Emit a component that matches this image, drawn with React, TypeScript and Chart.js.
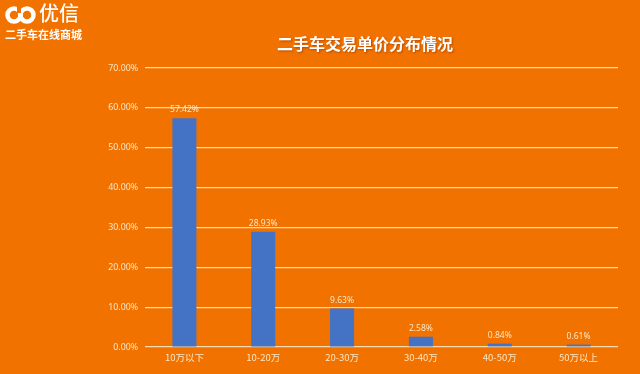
import React, { useEffect, useRef } from "react";
import { Chart, registerables } from "chart.js";

Chart.register(...registerables);

const categories = ["10万以下", "10-20万", "20-30万", "30-40万", "40-50万", "50万以上"];
const shares = [57.42, 28.93, 9.63, 2.58, 0.84, 0.61];
const titleText = "二手车交易单价分布情况";
const brandName = "优信";
const brandSlogan = "二手车在线商城";

const BG = "#f27200";
const CREAM = "#fbe6c4";

const overlayPlugin = {
  id: "overlay",
  afterDatasetsDraw(chart: any) {
    const ctx = chart.ctx;
    const meta = chart.getDatasetMeta(0);
    ctx.save();
    ctx.fillStyle = CREAM;
    ctx.font = "8.5px 'Noto Sans', sans-serif";
    ctx.textAlign = "center";
    ctx.textBaseline = "bottom";
    meta.data.forEach((bar: any, i: number) => {
      ctx.fillText(shares[i].toFixed(2) + "%", bar.x, bar.y - 4);
    });
    // title
    ctx.font = "bold 16px 'Noto Sans CJK SC', sans-serif";
    ctx.textBaseline = "middle";
    ctx.shadowColor = "rgba(120,40,0,0.5)";
    ctx.shadowBlur = 2;
    ctx.shadowOffsetX = 1;
    ctx.shadowOffsetY = 1;
    ctx.fillStyle = "#ffffff";
    ctx.fillText(titleText, 365, 44);
    ctx.restore();
  },
};

export default function App() {
  const ref = useRef<HTMLCanvasElement>(null);
  useEffect(() => {
    if (!ref.current) return;
    const chart = new Chart(ref.current, {
      type: "bar",
      data: {
        labels: categories,
        datasets: [
          {
            data: shares,
            backgroundColor: "#4472c4",
            barPercentage: 1,
            categoryPercentage: 0.305,
          },
        ],
      },
      options: {
        animation: false,
        responsive: false,
        maintainAspectRatio: false,
        layout: { padding: { left: 0, right: 22, top: 68, bottom: 0 } },
        plugins: { legend: { display: false }, tooltip: { enabled: false }, title: { display: false } },
        scales: {
          x: {
            grid: { display: false, drawTicks: false },
            border: { display: false },
            ticks: {
              color: CREAM,
              padding: 5,
              font: { size: 9.5, family: "'Noto Sans CJK SC', sans-serif" },
            },
            afterFit: (s: any) => {
              s.height = 27;
            },
          },
          y: {
            min: 0,
            max: 70,
            grid: { color: "#fadcb0", lineWidth: 1.2, drawTicks: false },
            border: { display: false },
            ticks: {
              stepSize: 10,
              color: CREAM,
              padding: 7,
              font: { size: 8.8, family: "'Noto Sans', sans-serif" },
              callback: (v: any) => Number(v).toFixed(2) + "%",
            },
            afterFit: (s: any) => {
              s.width = 145;
            },
          },
        },
      },
      plugins: [overlayPlugin],
    });
    return () => chart.destroy();
  }, []);

  return (
    <div style={{ position: "fixed", left: 0, top: 0, width: 640, height: 374, background: BG, overflow: "hidden" }}>
      <canvas ref={ref} width={640} height={374} style={{ position: "absolute", left: 0, top: 0 }} />
      <svg width="34" height="22" viewBox="0 0 34 22" style={{ position: "absolute", left: 4, top: 3 }}>
        <circle cx="10" cy="12" r="6.5" fill="none" stroke="#ffffff" strokeWidth="4.5" />
        <circle cx="23" cy="12" r="6.5" fill="none" stroke="#ffffff" strokeWidth="4.5" />
        <rect x="13" y="3" width="4" height="7" fill={BG} />
      </svg>
      <div
        style={{
          position: "absolute",
          left: 39,
          top: 1,
          color: "#ffffff",
          fontFamily: "'Noto Sans CJK SC', sans-serif",
          fontSize: 20,
          lineHeight: "24px",
          fontWeight: 500,
        }}
      >
        {brandName}
      </div>
      <div
        style={{
          position: "absolute",
          left: 5,
          top: 27,
          color: "#ffffff",
          fontFamily: "'Noto Sans CJK SC', sans-serif",
          fontSize: 11,
          lineHeight: "14px",
          fontWeight: 700,
          letterSpacing: 0,
        }}
      >
        {brandSlogan}
      </div>
    </div>
  );
}
